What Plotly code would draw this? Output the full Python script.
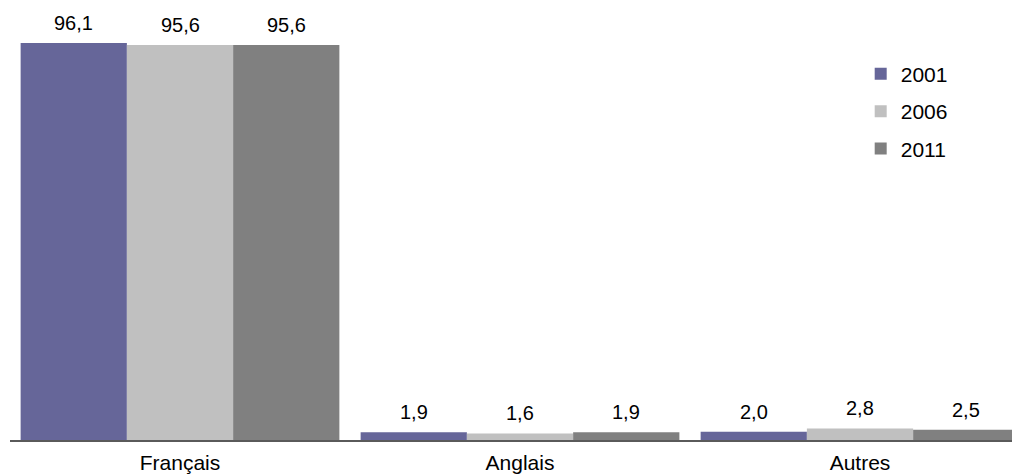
import plotly.graph_objects as go

categories = ["Français", "Anglais", "Autres"]
years = ["2001", "2006", "2011"]
values_2001 = [96.1, 1.9, 2.0]
values_2006 = [95.6, 1.6, 2.8]
values_2011 = [95.6, 1.9, 2.5]
series = [values_2001, values_2006, values_2011]
colors = ["#666699", "#C0C0C0", "#808080"]

BARGAP = 0.0625
fig = go.Figure()
for i, (yr, vals, col) in enumerate(zip(years, series, colors)):
    fig.add_trace(go.Bar(
        name=yr, x=categories, y=vals, marker=dict(color=col, line=dict(width=0)),
        legendgroup=yr,
    ))

# value labels above the bars (offset by bar slot width in pixels)
cat_px = 340.0
slot_px = cat_px * (1 - BARGAP) / len(years)
for i, vals in enumerate(series):
    for c, v in zip(categories, vals):
        fig.add_annotation(
            x=c, y=v, xref="x", yref="y",
            text=f"{v:.1f}".replace(".", ","), showarrow=False,
            xshift=(i - 1) * slot_px, yshift=7, yanchor="bottom",
            font=dict(family="Liberation Sans, Arial", size=20, color="#000000"),
        )

fig.update_layout(
    width=1012, height=476,
    margin=dict(l=10, r=0, t=0, b=36),
    paper_bgcolor="white", plot_bgcolor="white",
    barmode="group", bargap=BARGAP, bargroupgap=0,
    showlegend=True,
    legend=dict(x=0.849, y=0.878, xanchor="left", yanchor="top",
                font=dict(family="Liberation Sans, Arial", size=21, color="#000000"),
                tracegroupgap=7, itemwidth=30, traceorder="grouped",
                bgcolor="rgba(0,0,0,0)"),
    xaxis=dict(range=[-0.5, 2.447], showline=True, linecolor="#5a5a5a", linewidth=2,
               ticks="outside", ticklen=3, tickcolor="rgba(0,0,0,0)", showgrid=False,
               automargin=False,
               tickfont=dict(family="Liberation Sans, Arial", size=21, color="#000000")),
    yaxis=dict(range=[0, 106.5], visible=False, showgrid=False, automargin=False),
)
fig.write_html("out.html", config={"displayModeBar": False},
               post_script="document.body.style.margin='0';")
